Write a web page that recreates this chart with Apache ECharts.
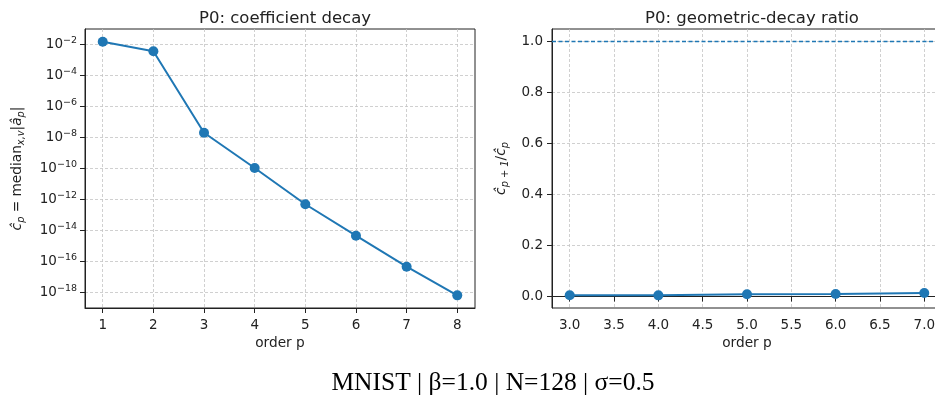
<!DOCTYPE html>
<html><head><meta charset="utf-8">
<script src="https://cdn.jsdelivr.net/npm/echarts@6/dist/echarts.min.js"></script>
<style>html,body{margin:0;padding:0;background:#fff}#c{width:935px;height:398px}</style>
</head><body><div id="c"></div>
<script>
// ---- data ----
const orders = [1, 2, 3, 4, 5, 6, 7, 8];
const coeffs = [1.4e-2, 3.4e-3, 1.9e-8, 1.0e-10, 4.6e-13, 4.3e-15, 4.3e-17, 6.1e-19];
const ratioOrders = [3, 4, 5, 6, 7];
const ratios = [0.0053, 0.0046, 0.0093, 0.0100, 0.0140];
const refLine = 1.0;
const leftXTicks = [1, 2, 3, 4, 5, 6, 7, 8];
const leftYTicks = [1e-18, 1e-16, 1e-14, 1e-12, 1e-10, 1e-8, 1e-6, 1e-4, 1e-2];
const rightXTicks = [3, 3.5, 4, 4.5, 5, 5.5, 6, 6.5, 7];
const rightYTicks = [0, 0.2, 0.4, 0.6, 0.8, 1.0];
const titleLeft = 'P0: coefficient decay';
const titleRight = 'P0: geometric-decay ratio';
const xName = 'order p';
const supTitle = 'MNIST | β=1.0 | N=128 | σ=0.5';

// ---- styling ----
const FONT = 'DejaVu Sans';
const BLUE = '#1f77b4';
const INK = '#222';
const GRID = { show: true, lineStyle: { color: '#c4c4c4', type: [3, 2], width: 0.8 } };
const axLine = { show: true, lineStyle: { color: INK, width: 1 } };
const tick = (vals) => ({ show: true, inside: false, length: 5, lineStyle: { color: INK, width: 1 }, customValues: vals });
const subRich = {
  n: { fontFamily: FONT, fontSize: 13.7, color: INK, lineHeight: 18 },
  i: { fontFamily: FONT, fontSize: 13.7, color: INK, fontStyle: 'italic', lineHeight: 18 },
  sb: { fontFamily: FONT, fontSize: 9.8, color: INK, fontStyle: 'italic', lineHeight: 8, verticalAlign: 'bottom' }
};

const chart = echarts.init(document.getElementById('c'), null, { renderer: 'canvas' });
chart.setOption({
  animation: false,
  backgroundColor: '#fff',
  title: [
    { text: titleLeft, left: 280, top: 5, textAlign: 'center',
      textStyle: { fontFamily: FONT, fontSize: 16.5, fontWeight: 'normal', color: INK } },
    { text: titleRight, left: 747, top: 5, textAlign: 'center',
      textStyle: { fontFamily: FONT, fontSize: 16.5, fontWeight: 'normal', color: INK } },
    { text: supTitle, left: 488, top: 365, textAlign: 'center',
      textStyle: { fontFamily: 'Liberation Serif', fontSize: 25.5, fontWeight: 'normal', color: '#000' } }
  ],
  grid: [
    { left: 85, top: 29, width: 390, height: 279, outerBoundsMode: 'none', containLabel: false,
      show: true, borderColor: INK, borderWidth: 1, backgroundColor: 'transparent' },
    { left: 552, top: 29, width: 390, height: 279, outerBoundsMode: 'none', containLabel: false,
      show: true, borderColor: INK, borderWidth: 1, backgroundColor: 'transparent' }
  ],
  xAxis: [
    { type: 'value', gridIndex: 0, min: 0.65, max: 8.35,
      name: xName, nameLocation: 'middle', nameGap: 28,
      nameTextStyle: { fontFamily: FONT, fontSize: 13.7, color: INK },
      axisLine: axLine, axisTick: tick(leftXTicks), splitLine: GRID,
      axisLabel: { customValues: leftXTicks, margin: 10, fontFamily: FONT, fontSize: 13.5, color: INK,
        formatter: v => String(Math.round(v)) } },
    { type: 'value', gridIndex: 1, min: 2.8, max: 7.2,
      name: xName, nameLocation: 'middle', nameGap: 28,
      nameTextStyle: { fontFamily: FONT, fontSize: 13.7, color: INK },
      axisLine: axLine, axisTick: tick(rightXTicks), splitLine: GRID,
      axisLabel: { customValues: rightXTicks, margin: 10, fontFamily: FONT, fontSize: 13.5, color: INK,
        formatter: v => v.toFixed(1) } }
  ],
  yAxis: [
    { type: 'log', logBase: 10, gridIndex: 0, min: Math.pow(10, -19.03), max: Math.pow(10, -1.03),
      name: '{i|ĉ}{sb|p}{n| = median}{sb|x,v}{n||}{i|â}{sb|p}{n||}',
      nameLocation: 'middle', nameGap: 59,
      nameTextStyle: { rich: subRich },
      axisLine: axLine, axisTick: tick(leftYTicks), splitLine: GRID, minorTick: { show: false },
      axisLabel: { customValues: leftYTicks, margin: 8,
        formatter: v => '{b|10}{s|−' + (-Math.round(Math.log10(v))) + '}',
        rich: {
          b: { fontFamily: FONT, fontSize: 13.5, color: INK, lineHeight: 18 },
          s: { fontFamily: FONT, fontSize: 9.5, color: INK, lineHeight: 10, verticalAlign: 'top' }
        } } },
    { type: 'value', gridIndex: 1, min: -0.045, max: 1.05,
      name: '{i|ĉ}{sb|p + 1}{n|/}{i|ĉ}{sb|p}',
      nameLocation: 'middle', nameGap: 42,
      nameTextStyle: { rich: subRich },
      axisLine: axLine, axisTick: tick(rightYTicks), splitLine: GRID,
      axisLabel: { customValues: rightYTicks, margin: 9, fontFamily: FONT, fontSize: 13.5, color: INK,
        formatter: v => v.toFixed(1) } }
  ],
  series: [
    { type: 'line', xAxisIndex: 0, yAxisIndex: 0,
      data: orders.map((o, k) => [o, coeffs[k]]),
      symbol: 'circle', symbolSize: 10,
      lineStyle: { color: BLUE, width: 2 }, itemStyle: { color: BLUE } },
    { type: 'line', xAxisIndex: 1, yAxisIndex: 1,
      data: ratioOrders.map((o, k) => [o, ratios[k]]),
      symbol: 'circle', symbolSize: 10,
      lineStyle: { color: BLUE, width: 2 }, itemStyle: { color: BLUE },
      markLine: { silent: true, symbol: ['none', 'none'], label: { show: false },
        itemStyle: { color: BLUE },
        lineStyle: { color: BLUE, type: [4, 2.5], width: 1.3, opacity: 1 },
        emphasis: { disabled: true },
        data: [{ yAxis: refLine, lineStyle: { color: BLUE, type: [4, 2.5], width: 1.3 } }] } }
  ]
});
</script>
</body></html>
